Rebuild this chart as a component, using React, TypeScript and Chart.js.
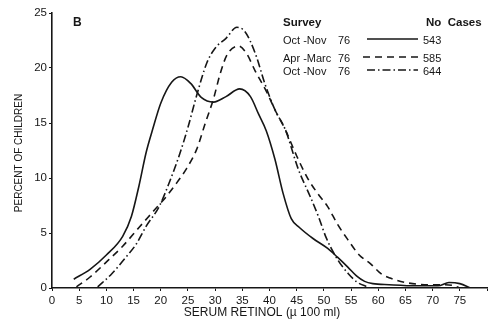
import React, { useEffect, useRef } from "react";
import { Chart, registerables } from "chart.js";

Chart.register(...registerables);

// Serum retinol (µg/100 ml) and percent of children for each survey
const solidX = [4, 7, 10, 13, 14.6, 16, 17.3, 18.5, 20, 22, 23.7, 25.5, 27.5, 29.7, 32, 34.5, 36.5, 38, 39.4, 41, 42.5, 44, 45.5, 48, 50.7, 52.5, 54.4, 56, 57.5, 59, 62, 67, 71, 73, 75, 77];
const solidY = [0.8, 1.7, 3.0, 4.7, 6.5, 9.3, 12.3, 14.4, 16.8, 18.7, 19.2, 18.6, 17.3, 16.9, 17.4, 18.1, 17.4, 15.8, 14.3, 11.7, 8.6, 6.3, 5.5, 4.5, 3.6, 2.8, 1.9, 1.1, 0.6, 0.4, 0.3, 0.2, 0.2, 0.5, 0.4, 0.0];

const dashedX = [4.5, 7, 10.5, 13, 16, 18.5, 21, 23, 24.8, 26.6, 28.2, 29.7, 31, 32.2, 34.3, 35.8, 37.4, 39.4, 41.2, 42.9, 45, 47.1, 49, 50.7, 52.5, 54.4, 56.5, 58.6, 60.5, 62.2, 65, 69.5, 72, 74, 75];
const dashedY = [0.1, 1.0, 2.6, 3.8, 5.5, 6.9, 8.3, 9.6, 10.9, 12.6, 15.0, 17.2, 19.6, 21.2, 22.0, 21.3, 19.7, 17.9, 16.0, 14.4, 12.0, 9.9, 8.5, 7.4, 5.8, 4.4, 3.0, 2.2, 1.3, 0.9, 0.5, 0.3, 0.3, 0.2, 0.0];

const dashDotX = [8.4, 11, 13.6, 15.5, 17.3, 19.7, 21.5, 23.5, 25, 26.6, 28.5, 30, 32, 34, 35.5, 37.4, 39.2, 41, 42.9, 45.3, 47.5, 49, 50.4, 52.5, 54.5, 56.2, 58];
const dashDotY = [0.1, 1.3, 2.8, 4.0, 5.6, 7.4, 9.5, 12.2, 14.6, 17.5, 20.5, 21.8, 22.7, 23.7, 23.3, 21.3, 18.5, 16.2, 14.4, 10.8, 8.3, 6.5, 4.6, 2.6, 1.3, 0.5, 0.1];

const surveyLabels = ["Oct -Nov", "Apr -Marc", "Oct -Nov"];
const surveyYears = ["76", "76", "76"];
const caseCounts = ["543", "585", "644"];

const xTickValues = [0, 5, 10, 15, 20, 25, 30, 35, 40, 45, 50, 55, 60, 65, 70, 75];
const yTickValues = [0, 5, 10, 15, 20, 25];

const FONT = "'Liberation Sans', Arial, sans-serif";
const INK = "#161616";

const pts = (xs: number[], ys: number[]) => xs.map((x, i) => ({ x, y: ys[i] }));

const dashes = [[], [7, 5], [8, 3, 1.5, 3]];

const overlayPlugin = {
  id: "overlay",
  afterDraw(chart: any) {
    const ctx = chart.ctx as CanvasRenderingContext2D;
    ctx.save();
    ctx.fillStyle = INK;
    ctx.strokeStyle = INK;
    ctx.textBaseline = "middle";
    // panel letter
    ctx.font = `bold 12px ${FONT}`;
    ctx.textAlign = "left";
    ctx.fillText("B", 73, 23);
    // legend header
    ctx.font = `bold 11.5px ${FONT}`;
    ctx.fillText("Survey", 283, 23);
    ctx.fillText("No  Cases", 426, 23);
    const rows = [41, 59, 72];
    ctx.font = `11px ${FONT}`;
    rows.forEach((ry, i) => {
      ctx.fillText(surveyLabels[i], 283, ry);
      ctx.fillText(surveyYears[i], 338, ry);
      ctx.fillText(caseCounts[i], 423, ry);
      ctx.lineWidth = 1.6;
      ctx.setLineDash(dashes[i]);
      ctx.beginPath();
      ctx.moveTo(i === 1 ? 363 : 367, ry - 2);
      ctx.lineTo(418, ry - 2);
      ctx.stroke();
    });
    ctx.setLineDash([]);
    // axis titles
    ctx.font = `12px ${FONT}`;
    ctx.textAlign = "center";
    ctx.fillText("SERUM RETINOL (\u00b5 100 ml)", 262, 313);
    ctx.font = `10px ${FONT}`;
    ctx.save();
    ctx.translate(19, 153);
    ctx.rotate(-Math.PI / 2);
    ctx.fillText("PERCENT OF CHILDREN", 0, 0);
    ctx.restore();
    ctx.restore();
  },
};

export default function App() {
  const ref = useRef<HTMLCanvasElement>(null);
  useEffect(() => {
    if (!ref.current) return;
    const mk = (label: string, xs: number[], ys: number[], dash: number[]) => ({
      label,
      data: pts(xs, ys),
      borderColor: INK,
      borderWidth: 1.6,
      borderDash: dash,
      pointRadius: 0,
      fill: false,
      cubicInterpolationMode: "monotone" as const,
    });
    const chart = new Chart(ref.current, {
      type: "line",
      data: {
        datasets: [
          mk("Oct-Nov 76 (543)", solidX, solidY, dashes[0]),
          mk("Apr-Marc 76 (585)", dashedX, dashedY, dashes[1]),
          mk("Oct-Nov 76 (644)", dashDotX, dashDotY, dashes[2]),
        ],
      },
      options: {
        animation: false,
        responsive: false,
        layout: { padding: { top: 13, left: 0, right: 0, bottom: 0 } },
        plugins: { legend: { display: false }, tooltip: { enabled: false } },
        scales: {
          x: {
            type: "linear",
            min: 0,
            max: 80,
            afterBuildTicks: (s: any) => {
              s.ticks = [...xTickValues, 80].map((v) => ({ value: v }));
            },
            afterFit: (s: any) => {
              s.height = 34;
            },
            ticks: {
              autoSkip: false,
              maxRotation: 0,
              padding: 3,
              color: INK,
              font: { family: FONT, size: 11.5 },
              callback: (v: any) => (xTickValues.includes(v) ? String(v) : ""),
            },
            grid: { drawOnChartArea: false, drawTicks: true, tickLength: 3, color: INK, lineWidth: 1 },
            border: { color: INK, width: 1.6 },
          },
          y: {
            min: 0,
            max: 25,
            afterBuildTicks: (s: any) => {
              s.ticks = yTickValues.map((v) => ({ value: v }));
            },
            afterFit: (s: any) => {
              s.width = 52;
            },
            ticks: {
              padding: 2,
              color: INK,
              font: { family: FONT, size: 11.5 },
            },
            grid: { drawOnChartArea: false, drawTicks: true, tickLength: 3, color: INK, lineWidth: 1 },
            border: { color: INK, width: 1.6 },
          },
        },
      },
      plugins: [overlayPlugin],
    });
    return () => chart.destroy();
  }, []);
  return (
    <div style={{ position: "fixed", left: 0, top: 0, width: 490, height: 322, background: "#fff" }}>
      <canvas ref={ref} width={490} height={322} />
    </div>
  );
}
